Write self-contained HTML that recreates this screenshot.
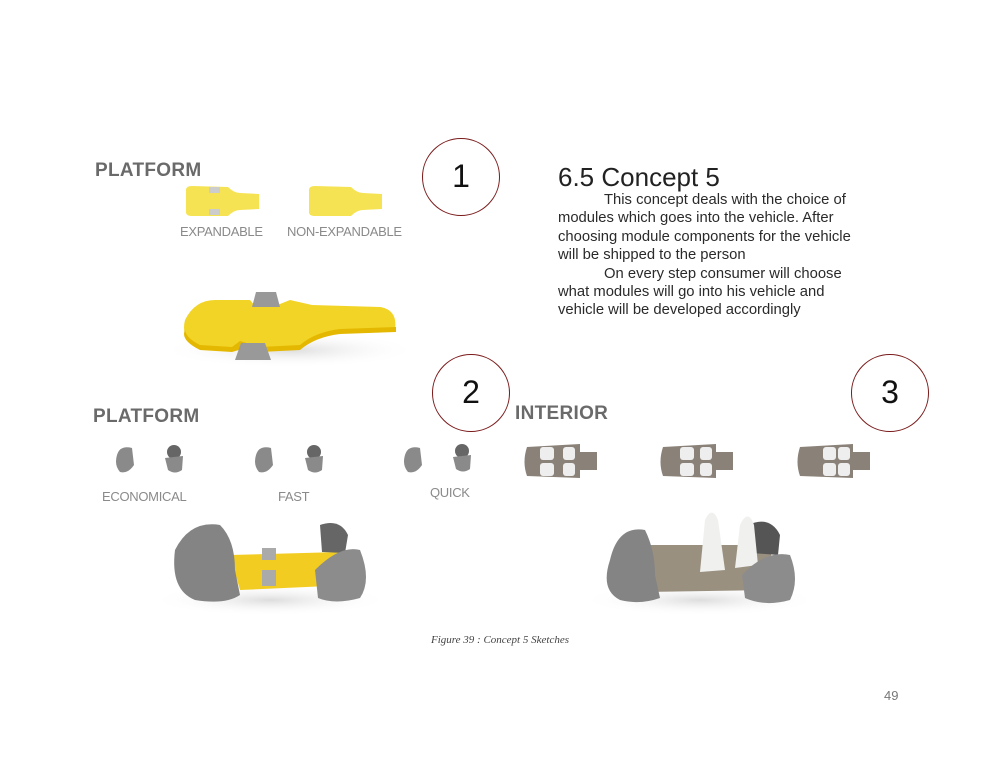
<!DOCTYPE html>
<html><head><style>
body{margin:0;width:1000px;height:773px;background:#fff;position:relative;overflow:hidden;font-family:"Liberation Sans",sans-serif}
.a{position:absolute;white-space:nowrap}
.h{font-weight:bold;color:#6a6a6a;font-size:19px;letter-spacing:0.3px}
.l{color:#8a8a8a;font-size:13px;letter-spacing:-0.3px}
.c{position:absolute;border:1.5px solid #7a1a1a;border-radius:50%;width:78px;height:78px;box-sizing:border-box;text-align:center;font-size:32px;line-height:74px;color:#111}
.t{font-size:14.8px;line-height:18.4px;color:#2a2a2a}
</style></head><body>
<div class="a h" style="left:95px;top:160px">PLATFORM</div>
<svg class="a" style="left:0;top:0" width="1000" height="773">
<defs>
<radialGradient id="sh" cx="50%" cy="50%" r="50%"><stop offset="0" stop-color="#ddd"/><stop offset="1" stop-color="#fff" stop-opacity="0"/></radialGradient>
</defs>
<path d="M186 190 Q186 186 192 186 L228 187 Q234 193 240 193 L259 194 L259 209 L240 210 Q234 210 228 216 L192 216 Q186 216 186 212Z" fill="#f6e353"/>
<rect x="209" y="187" width="11" height="6" fill="#ccc"/><rect x="209" y="209" width="11" height="6" fill="#ccc"/>
<path d="M309 190 Q309 186 315 186 L351 187 Q357 193 363 193 L382 194 L382 209 L363 210 Q357 210 351 216 L315 216 Q309 216 309 212Z" fill="#f6e353"/>
<ellipse cx="290" cy="350" rx="130" ry="18" fill="url(#sh)"/>
<path d="M185 320 Q195 300 215 300 L250 300 L255 306 L275 306 L290 300 L312 305 L380 307 Q398 310 395 330 L340 332 Q315 335 300 348 L260 350 L252 343 L240 343 L232 350 L200 348 Q180 340 185 320Z" fill="#f2d427"/>
<path d="M185 330 Q180 340 200 350 L232 352 L252 346 L260 352 L300 350 Q315 337 340 334 L396 332 L396 327 L340 329 Q315 332 300 345 L260 347 L240 341 L232 347 L200 345 Q186 338 185 330Z" fill="#e4b800"/>
<path d="M256 292 L276 292 L280 307 L252 307Z" fill="#999"/>
<path d="M241 343 L265 343 L271 360 L235 360Z" fill="#999"/>
<g fill="#8a8a8a">
<path d="M117 455 Q120 445 132 448 L134 465 Q128 474 120 472 Q114 465 117 455Z"/><circle cx="174" cy="452" r="7" fill="#666"/><path d="M165 458 L183 456 L182 470 Q175 475 168 470Z"/>
<path d="M256 455 Q259 445 271 448 L273 465 Q267 474 259 472 Q253 465 256 455Z"/><circle cx="314" cy="452" r="7" fill="#666"/><path d="M305 458 L323 456 L322 470 Q315 475 308 470Z"/>
<path d="M405 455 Q408 445 420 448 L422 465 Q416 474 408 472 Q402 465 405 455Z"/><circle cx="462" cy="451" r="7" fill="#666"/><path d="M453 457 L471 455 L470 469 Q463 474 456 469Z"/>
</g>
<g>
<path d="M527 447 L580 444 L580 452 L597 452 L597 470 L580 470 L580 478 L527 476 Q522 462 527 447Z" fill="#8a8278"/>
<rect x="540" y="447" width="14" height="13" rx="3" fill="#eee"/><rect x="540" y="463" width="14" height="13" rx="3" fill="#eee"/><rect x="563" y="447" width="12" height="13" rx="3" fill="#eee"/><rect x="563" y="463" width="12" height="13" rx="3" fill="#eee"/>
<path d="M663 447 L716 444 L716 452 L733 452 L733 470 L716 470 L716 478 L663 476 Q658 462 663 447Z" fill="#8a8278"/>
<rect x="680" y="447" width="14" height="13" rx="3" fill="#eee"/><rect x="680" y="463" width="14" height="13" rx="3" fill="#eee"/><rect x="700" y="447" width="12" height="13" rx="3" fill="#eee"/><rect x="700" y="463" width="12" height="13" rx="3" fill="#eee"/>
<path d="M800 447 L853 444 L853 452 L870 452 L870 470 L853 470 L853 478 L800 476 Q795 462 800 447Z" fill="#8a8278"/>
<rect x="823" y="447" width="13" height="13" rx="3" fill="#eee"/><rect x="823" y="463" width="13" height="13" rx="3" fill="#eee"/><rect x="838" y="447" width="12" height="13" rx="3" fill="#eee"/><rect x="838" y="463" width="12" height="13" rx="3" fill="#eee"/>
</g>
<ellipse cx="270" cy="600" rx="120" ry="16" fill="url(#sh)"/>
<path d="M230 555 L340 552 L350 585 L240 590Z" fill="#f2cc20"/>
<rect x="262" y="548" width="14" height="12" fill="#aaa"/><rect x="262" y="570" width="14" height="16" fill="#aaa"/>
<path d="M175 550 Q190 520 220 525 Q235 540 235 570 L240 595 Q225 605 195 600 Q170 590 175 550Z" fill="#848484"/>
<path d="M320 525 Q340 518 348 535 L345 553 L322 552Z" fill="#666"/>
<path d="M315 570 Q340 545 360 550 Q372 580 360 598 Q335 605 318 598Z" fill="#8c8c8c"/>
<ellipse cx="700" cy="600" rx="120" ry="16" fill="url(#sh)"/>
<path d="M640 545 L770 545 L775 590 L645 592Z" fill="#9a9080"/>
<path d="M610 560 Q618 525 645 530 Q655 550 655 575 L660 598 Q640 605 620 600 Q600 590 610 560Z" fill="#848484"/>
<path d="M748 525 Q770 515 780 535 L778 555 L752 553Z" fill="#555"/>
<path d="M705 520 Q712 505 718 520 L725 570 L700 572Z" fill="#f0f0ee"/><path d="M740 525 Q748 508 754 525 L758 565 L735 568Z" fill="#f0f0ee"/>
<path d="M742 575 Q765 550 790 555 Q800 580 790 600 Q765 607 745 598Z" fill="#8c8c8c"/>
</svg>
<div class="a l" style="left:180px;top:224px">EXPANDABLE</div>
<div class="a l" style="left:287px;top:224px">NON-EXPANDABLE</div>
<div class="c" style="left:422px;top:138px">1</div>
<div class="c" style="left:432px;top:354px">2</div>
<div class="c" style="left:851px;top:354px">3</div>
<div class="a" style="left:558px;top:162px;font-size:26px;color:#222">6.5 Concept 5</div>
<div class="a t" style="left:558px;top:191px">
<span style="padding-left:46px">This concept deals with the choice of</span><br>modules which goes into the vehicle. After<br>choosing module components for the vehicle<br>will be shipped to the person<br><span style="padding-left:46px">On every step consumer will choose</span><br>what modules will go into his vehicle and<br>vehicle will be developed accordingly</div>
<div class="a h" style="left:93px;top:406px">PLATFORM</div>
<div class="a h" style="left:515px;top:403px">INTERIOR</div>
<div class="a l" style="left:102px;top:489px">ECONOMICAL</div>
<div class="a l" style="left:278px;top:489px">FAST</div>
<div class="a l" style="left:430px;top:485px">QUICK</div>
<div class="a" style="left:0;width:1000px;text-align:center;top:634px;font-family:'Liberation Serif',serif;font-style:italic;font-size:11px;color:#444">Figure 39 : Concept 5 Sketches</div>
<div class="a" style="left:884px;top:688px;font-size:13px;color:#777">49</div>
</body></html>
